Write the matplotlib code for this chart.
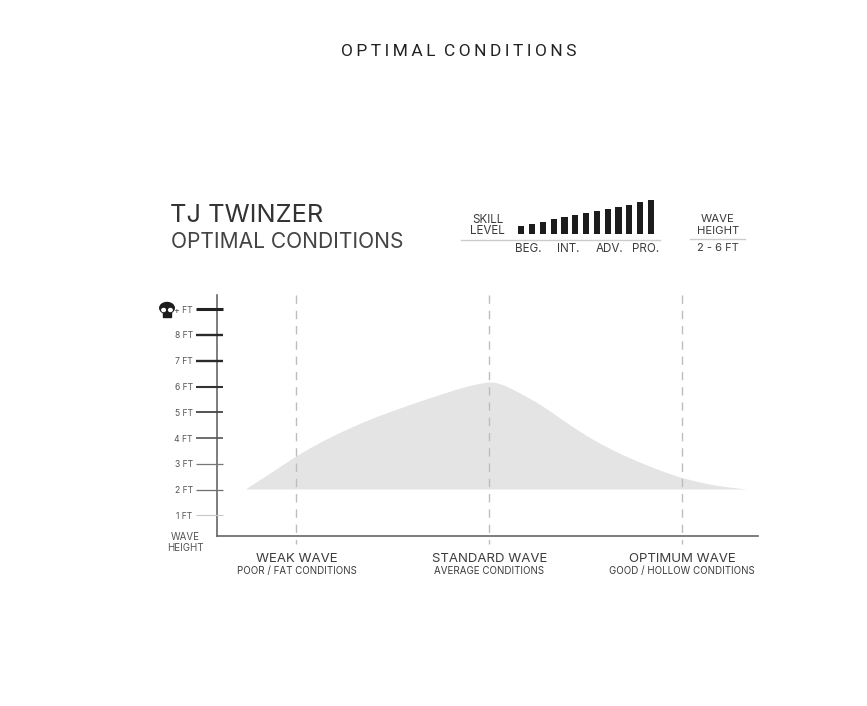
import matplotlib
matplotlib.use("Agg")
from matplotlib import pyplot as plt
from matplotlib.patches import Ellipse, Rectangle, PathPatch
from matplotlib.path import Path

W, H = 867, 706

# wave quality position (0 weak, 1 standard, 2 optimum) and height in feet
curve_x = [-0.26, -0.13, -0.006, 0.08, 0.174, 0.26, 0.345, 0.43, 0.52, 0.61, 0.693, 0.78, 0.864, 0.93,
           0.98, 1.01, 1.04, 1.09, 1.16, 1.23, 1.30, 1.38, 1.47, 1.55, 1.64, 1.73, 1.82, 1.96, 2.05, 2.13, 2.22, 2.34]
curve_ft = [2.0, 2.63, 3.25, 3.63, 4.0, 4.31, 4.59, 4.85, 5.09, 5.33, 5.54, 5.75, 5.95, 6.07,
            6.14, 6.16, 6.14, 6.01, 5.74, 5.45, 5.13, 4.70, 4.25, 3.88, 3.53, 3.21, 2.93, 2.53, 2.35, 2.21, 2.09, 2.0]
wave_pos = [0, 1, 2]
wave_names = ["WEAK WAVE", "STANDARD WAVE", "OPTIMUM WAVE"]
wave_subs = ["POOR / FAT CONDITIONS", "AVERAGE CONDITIONS", "GOOD / HOLLOW CONDITIONS"]
ft_values = [1, 2, 3, 4, 5, 6, 7, 8, 9]
ft_labels = ["1 FT", "2 FT", "3 FT", "4 FT", "5 FT", "6 FT", "7 FT", "8 FT", "+ FT"]
ft_colors = ["#c8c8c8", "#6e6e6e", "#777777", "#555555", "#444444", "#333333", "#2a2a2a", "#2a2a2a", "#222222"]
ft_widths = [0.8, 0.9, 0.9, 1.2, 1.3, 1.5, 1.7, 1.7, 2.2]

skill_levels = [7.7, 10, 12, 14.3, 16.3, 18.3, 20.7, 22.7, 25, 27, 29, 31.3, 33.7]
skill_pos = list(range(13))
skill_labels = ["BEG.", "INT.", "ADV.", "PRO."]
skill_label_px = [528, 568, 610, 646]

FONT = ["Inter", "DejaVu Sans"]
DARK = "#3c3c3c"


def axes_px(left, top, right, bottom):
    return fig.add_axes([left / W, 1 - bottom / H, (right - left) / W, (bottom - top) / H])


def label(px, py, s, size, color=DARK, ha="center", family=FONT, **kw):
    fig.text(px / W, 1 - py / H, s, fontsize=size, color=color, ha=ha, va="center", family=family, **kw)


fig = plt.figure(figsize=(W / 100, H / 100), dpi=100)

# main chart
ax = axes_px(217, 295, 758, 536)
ax.set_xlim((217 - 296) / 193, (758 - 296) / 193)
ax.set_ylim((541 - 536) / 25.75, (541 - 295) / 25.75)

# read points used as quadratic controls so the hump stays smooth
verts = [(curve_x[0], curve_ft[0])]
codes = [Path.MOVETO]
for i in range(1, len(curve_x) - 1):
    if i < len(curve_x) - 2:
        end = ((curve_x[i] + curve_x[i + 1]) / 2, (curve_ft[i] + curve_ft[i + 1]) / 2)
    else:
        end = (curve_x[-1], curve_ft[-1])
    verts += [(curve_x[i], curve_ft[i]), end]
    codes += [Path.CURVE3, Path.CURVE3]
verts.append(verts[0])
codes.append(Path.CLOSEPOLY)
ax.add_patch(PathPatch(Path(verts, codes), facecolor="#e4e4e4", edgecolor="none", zorder=1))

for s in ["top", "right"]:
    ax.spines[s].set_visible(False)
for s in ["left", "bottom"]:
    ax.spines[s].set_color("#666666")
    ax.spines[s].set_linewidth(1.2)
ax.set_xticks([])
ax.set_yticks(ft_values)
ax.set_yticklabels(ft_labels, fontsize=6.2, color="#555555", family=FONT)
ax.tick_params(axis="y", length=0, pad=17.5)

# feet marks cross the axis line, drawn as axis fraction on x
for v, c, lw in zip(ft_values, ft_colors, ft_widths):
    ax.plot([-21 / 541, 6 / 541], [v, v], color=c, lw=lw, transform=ax.get_yaxis_transform(),
            clip_on=False, solid_capstyle="butt", zorder=3)

# wave category guides run slightly under the axis
for p in wave_pos:
    ax.plot([p, p], [1.0, -8 / 241], color="#bdbdbd", lw=1.0, dashes=(6, 5),
            transform=ax.get_xaxis_transform(), clip_on=False, zorder=2)

px_of = lambda p: 296.5 + 192.75 * p
for p, name, sub in zip(wave_pos, wave_names, wave_subs):
    label(px_of(p), 559, name, 9.5)
    label(px_of(p), 571, sub, 7.0)

label(185, 537, "WAVE", 7.0, "#555555")
label(185, 548, "HEIGHT", 7.0, "#555555")

# skull for the top mark
ax_skull = fig.add_axes([0, 0, 1, 1], facecolor="none")
ax_skull.set_xlim(0, W)
ax_skull.set_ylim(H, 0)
ax_skull.axis("off")
ax_skull.add_patch(Ellipse((167, 308), 14.5, 11, color="#1c1c1c"))
ax_skull.add_patch(Rectangle((163, 311), 8, 6, color="#1c1c1c"))
ax_skull.add_patch(Ellipse((163.6, 310), 3.6, 3, color="white"))
ax_skull.add_patch(Ellipse((170.4, 310), 3.6, 3, color="white"))

# header
label(170, 215.5, "TJ TWINZER", 18.3, "#333333", ha="left")
label(171, 241.5, "OPTIMAL CONDITIONS", 15.1, "#444444", ha="left")
title = "\u2009".join("OPTIMAL") + "  " + "\u2009".join("CONDITIONS")
label(459, 52, title, 12.5, "#222222", family=["Roboto", "DejaVu Sans"])

# skill level bars
ax_skill = axes_px(512, 197, 660, 239)
ax_skill.bar(skill_pos, skill_levels, width=0.56, color="#1c1c1c")
ax_skill.set_xlim((512 - 521.3) / 10.8, (660 - 521.3) / 10.8)
ax_skill.set_ylim(-5.3, 36.7)
ax_skill.axis("off")
fig.add_artist(plt.Line2D([461 / W, 660 / W], [1 - 239.5 / H] * 2, color="#cccccc", lw=1))
fig.add_artist(plt.Line2D([690 / W, 745 / W], [1 - 238.5 / H] * 2, color="#cccccc", lw=1))

label(487.5, 220, "SKILL", 8.4)
label(487.5, 231, "LEVEL", 8.4)
for x, s in zip(skill_label_px, skill_labels):
    label(x, 248.5, s, 8.4)
label(718, 219.5, "WAVE", 8.2)
label(718, 230.5, "HEIGHT", 8.2)
label(718, 248, "2 - 6 FT", 8.0)

fig.savefig("out.png", dpi=100)
